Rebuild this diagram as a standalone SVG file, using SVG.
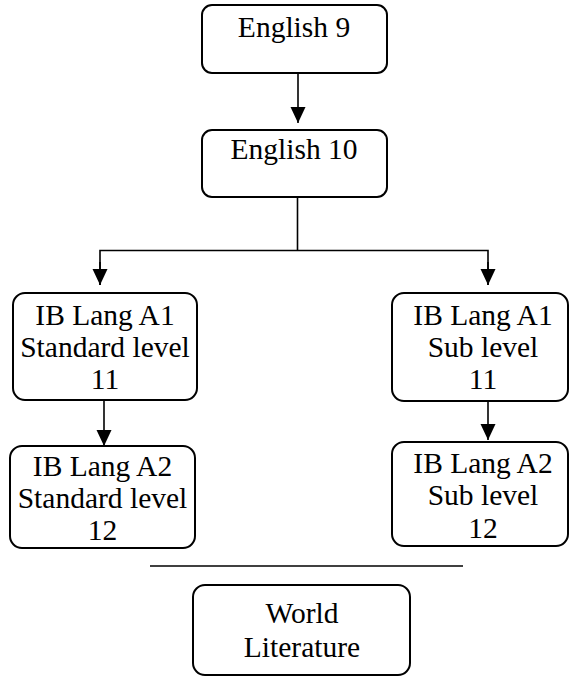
<svg xmlns="http://www.w3.org/2000/svg" width="570" height="677" viewBox="0 0 570 677">
<style>
.box{fill:#fff;stroke:#000;stroke-width:2}
.t{font-family:'Liberation Serif','DejaVu Serif',serif;font-size:29.5px;fill:#000;text-anchor:middle}
.c{fill:none;stroke:#000;stroke-width:1.6}
</style>
<defs>
<marker id="ah" markerUnits="userSpaceOnUse" markerWidth="16" markerHeight="16" viewBox="0 0 16 16" refX="16" refY="8" orient="auto">
<path d="M0,0.5 L16,8 L0,15.5 Z" fill="#000"/>
</marker>
</defs>
<rect width="570" height="677" fill="#fff"/>
<g id="connectors">
<line class="c" x1="298" y1="73" x2="298" y2="123" marker-end="url(#ah)"/>
<line class="c" x1="297.5" y1="198" x2="297.5" y2="250.5"/>
<polyline class="c" points="100,285 100,250.5 488,250.5 488,285" />
<line class="c" x1="100" y1="262" x2="100" y2="285" marker-end="url(#ah)"/>
<line class="c" x1="488" y1="262" x2="488" y2="285" marker-end="url(#ah)"/>
<line class="c" x1="104" y1="401" x2="104" y2="446" marker-end="url(#ah)"/>
<line class="c" x1="488" y1="402" x2="488" y2="440" marker-end="url(#ah)"/>
<line class="c" x1="150" y1="566" x2="463" y2="566"/>
</g>
<g id="english9">
<rect class="box" x="202" y="5" width="185" height="68" rx="10"/>
<text class="t" x="294" y="37" font-family="Liberation Serif, serif">English 9</text>
</g>
<g id="english10">
<rect class="box" x="202" y="130" width="185" height="67" rx="10"/>
<text class="t" x="294" y="159">English 10</text>
</g>
<g id="ibA1SL">
<rect class="box" x="13" y="293" width="184" height="107" rx="12"/>
<text class="t" x="105" y="325">IB Lang A1</text>
<text class="t" x="105" y="357">Standard level</text>
<text class="t" x="105" y="389">11</text>
</g>
<g id="ibA2SL">
<rect class="box" x="10" y="446" width="185" height="102" rx="12"/>
<text class="t" x="102.5" y="476">IB Lang A2</text>
<text class="t" x="102.5" y="508">Standard level</text>
<text class="t" x="102.5" y="540">12</text>
</g>
<g id="ibA1Sub">
<rect class="box" x="392" y="293" width="176" height="108" rx="12"/>
<text class="t" x="483" y="325">IB Lang A1</text>
<text class="t" x="483" y="357">Sub level</text>
<text class="t" x="483" y="389">11</text>
</g>
<g id="ibA2Sub">
<rect class="box" x="392" y="442" width="176" height="104" rx="12"/>
<text class="t" x="483" y="473">IB Lang A2</text>
<text class="t" x="483" y="505">Sub level</text>
<text class="t" x="483" y="538">12</text>
</g>
<g id="worldlit">
<rect class="box" x="193" y="585" width="217" height="90" rx="12"/>
<text class="t" x="302" y="623">World</text>
<text class="t" x="302" y="657">Literature</text>
</g>
</svg>
